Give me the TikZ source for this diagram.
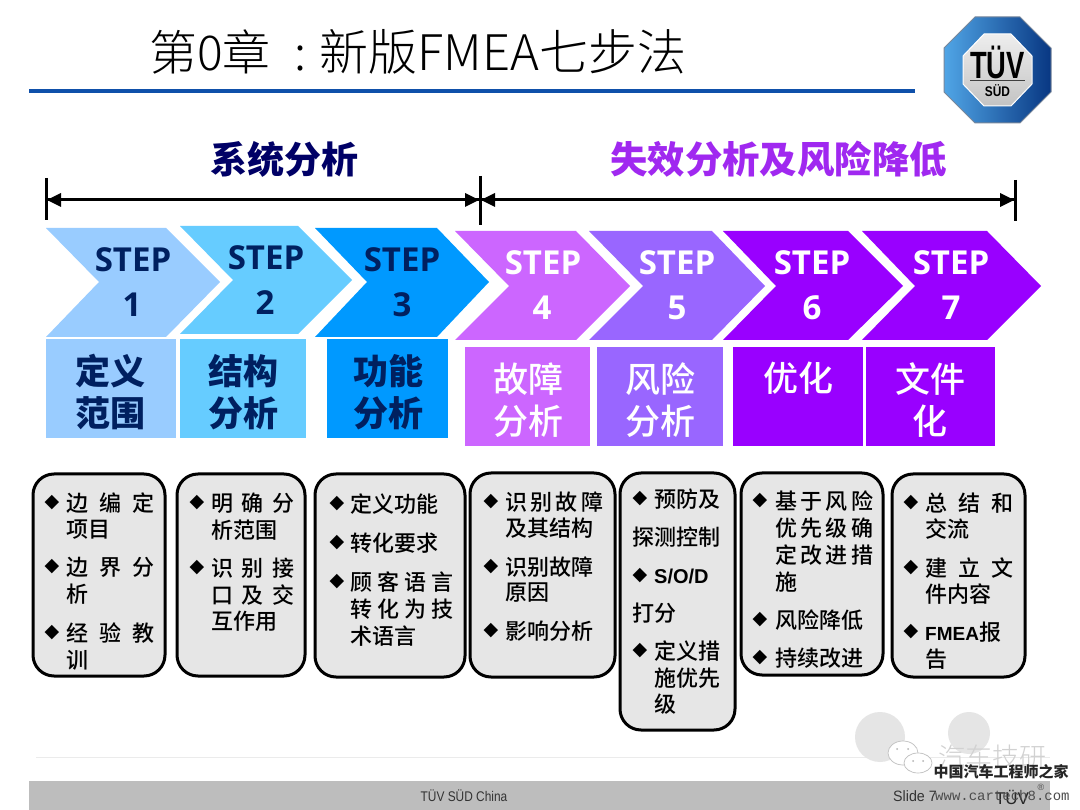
\documentclass[tikz,border=0pt]{standalone}
\usepackage{fontspec}
\setmainfont{Noto Sans CJK SC}
\newfontfamily\cjklight{Noto Sans CJK SC Light}
\newfontfamily\cjkmed{Noto Sans CJK SC Medium}
\newfontfamily\latinf{Liberation Sans}
\newfontfamily\monof{Liberation Mono}
\newfontfamily\symf{DejaVu Sans}
\newfontfamily\stepf{Open Sans}
\definecolor{cA}{HTML}{99CCFF}
\definecolor{cB}{HTML}{66CCFF}
\definecolor{cC}{HTML}{0099FF}
\definecolor{cD}{HTML}{CC66FF}
\definecolor{cE}{HTML}{9966FF}
\definecolor{cF}{HTML}{9900FF}
\definecolor{navy}{HTML}{000066}
\definecolor{deepblue}{HTML}{002060}
\definecolor{boxgray}{HTML}{E6E6E6}
\newcommand{\fs}[1]{\fontsize{#1}{#1}\selectfont}
\newcommand{\tl}[5]{\node[linetext] (#1) at (#2,#3) {\makebox[#4pt][s]{#5}};}
\newcommand{\bl}[3]{\node[bulletmark] (#1) at (#2,#3) {◆};}
\tikzset{
  linetext/.style={anchor=west,inner sep=0pt,font=\cjkmed\fs{22}},
  bulletmark/.style={inner sep=0pt,font=\symf\fs{19}},
  stephead/.style={inner sep=0pt,font=\stepf\bfseries\fs{33}},
  labeltext/.style={inner sep=0pt,font=\bfseries\fs{35},align=center},
  labellight/.style={inner sep=0pt,font=\cjkmed\fs{35},align=center,color=white},
  listbox/.style={draw=black,line width=3pt,fill=boxgray,rounded corners=21pt},
  bar/.style={line width=3pt,black},
  span/.style={line width=3pt,black},
}
\begin{document}
\begin{tikzpicture}[x=1pt,y=-1pt]
\useasboundingbox (0,0) rectangle (1080,810);
\fill[white] (0,0) rectangle (1080,810);
% title
\node[inner sep=0pt,anchor=west,font=\cjklight\fs{48}] (title) at (149,52) {第0章\hspace{24pt}:\hspace{13pt}{\fs{49}新版FMEA七步法}};
\coordinate (ruleL) at (29,91);
\coordinate (ruleR) at (915,91);
\draw[line width=4pt,color={rgb,255:red,15;green,80;blue,170}] (ruleL) -- (ruleR);
% logo
\path[draw={rgb,255:red,120;green,135;blue,155},line width=1pt,left color={rgb,255:red,80;green,165;blue,230},middle color={rgb,255:red,15;green,75;blue,155},right color={rgb,255:red,8;green,55;blue,130}]
 (975,17)--(1020,17)--(1051,48)--(1051,92)--(1020,123)--(975,123)--(944,92)--(944,48)--cycle;
\path[draw=white,line width=1pt,top color={rgb,255:red,238;green,238;blue,238},bottom color={rgb,255:red,195;green,195;blue,195}]
 (984,34)--(1011,34)--(1032,56)--(1032,84)--(1011,106)--(984,106)--(963,84)--(963,56)--cycle;
\node[inner sep=0pt,font=\latinf\bfseries\fs{38}] (tuv) at (997.5,62) {\scalebox{0.72}[1]{TÜV}};
\node[inner sep=0pt,font=\latinf\bfseries\fs{14}] (sud) at (997.5,91) {\scalebox{0.85}[1]{SÜD}};
\coordinate (lgL) at (970,80);
\coordinate (lgR) at (1025,80);
\draw[line width=0.8pt,black!75] (lgL) -- (lgR);
% headers
\node[inner sep=0pt,font=\bfseries\fs{37},color=navy] (h1) at (284,159) {系统分析};
\node[inner sep=0pt,font=\bfseries\fs{37.4},color={rgb,255:red,160;green,40;blue,240}] (h2) at (778.5,159) {失效分析及风险降低};
% spans
\coordinate (a1) at (46,178); \coordinate (a2) at (46,220);
\coordinate (b1) at (480,176); \coordinate (b2) at (480,225);
\coordinate (c1) at (1015,180); \coordinate (c2) at (1015,221);
\coordinate (l0) at (46,200); \coordinate (l1) at (480,200); \coordinate (l2) at (1015,200);
\draw[bar] (a1) -- (a2);
\draw[bar] (b1) -- (b2);
\draw[bar] (c1) -- (c2);
\draw[span] (l0) -- (l1);
\draw[span] (l1) -- (l2);
\fill (l0) ++(1,0) -- ++(14,-7) -- ++(0,14) -- cycle;
\fill (l1) ++(-1,0) -- ++(-14,-7) -- ++(0,14) -- cycle;
\fill (l1) ++(1,0) -- ++(14,-7) -- ++(0,14) -- cycle;
\fill (l2) ++(-1,0) -- ++(-14,-7) -- ++(0,14) -- cycle;
% chevrons
\fill[cA] (46,228)--(166,228)--(220,282)--(166,337)--(46,337)--(99,282)--cycle;
\fill[cB] (180,226)--(298,226)--(352,280)--(298,334)--(180,334)--(233,280)--cycle;
\fill[cC] (315,228)--(437,228)--(489,282)--(437,337)--(315,337)--(367,282)--cycle;
\fill[cD] (455,231)--(576,231)--(630,286)--(576,340)--(455,340)--(509,286)--cycle;
\fill[cE] (589,231)--(712,231)--(765,286)--(712,340)--(589,340)--(643,286)--cycle;
\fill[cF] (723,231)--(848,231)--(903,286)--(848,340)--(723,340)--(776,286)--cycle;
\fill[cF] (862,231)--(987,231)--(1041,286)--(987,340)--(862,340)--(915,286)--cycle;
\node[stephead,color=deepblue] (s1a) at (133,260) {STEP};
\node[stephead,color=deepblue] (s1b) at (132,305) {1};
\node[stephead,color=deepblue] (s2a) at (266,258) {STEP};
\node[stephead,color=deepblue] (s2b) at (265,303) {2};
\node[stephead,color=deepblue] (s3a) at (402,260) {STEP};
\node[stephead,color=deepblue] (s3b) at (402,305) {3};
\node[stephead,color=white] (s4a) at (543,263) {STEP};
\node[stephead,color=white] (s4b) at (542,308) {4};
\node[stephead,color=white] (s5a) at (677,263) {STEP};
\node[stephead,color=white] (s5b) at (677,308) {5};
\node[stephead,color=white] (s6a) at (812,263) {STEP};
\node[stephead,color=white] (s6b) at (812,308) {6};
\node[stephead,color=white] (s7a) at (951,263) {STEP};
\node[stephead,color=white] (s7b) at (951,308) {7};
% label boxes
\fill[cA] (46,339) rectangle (176,438);
\fill[cB] (180,339) rectangle (306,438);
\fill[cC] (327,339) rectangle (448,438);
\fill[cD] (465,347) rectangle (590,446);
\fill[cE] (597,347) rectangle (723,446);
\fill[cF] (733,347) rectangle (863,446);
\fill[cF] (866,347) rectangle (995,446);
\node[labeltext,color=deepblue] (n1a) at (110,371) {定义};
\node[labeltext,color=deepblue] (n1b) at (110,413) {范围};
\node[labeltext,color=deepblue] (n2a) at (243,371) {结构};
\node[labeltext,color=deepblue] (n2b) at (243,413) {分析};
\node[labeltext,color=deepblue] (n3a) at (388,371) {功能};
\node[labeltext,color=deepblue] (n3b) at (388,413) {分析};
\node[labellight] (n4a) at (528,379) {故障};
\node[labellight] (n4b) at (528,421) {分析};
\node[labellight] (n5a) at (660,379) {风险};
\node[labellight] (n5b) at (660,421) {分析};
\node[labellight] (n6a) at (798,378) {优化};
\node[labellight] (n7a) at (930,379) {文件};
\node[labellight] (n7b) at (930,421) {化};
% list boxes
\draw[listbox] (33,474) rectangle (165,676);
\draw[listbox] (177,474) rectangle (305,676);
\draw[listbox] (315,474) rectangle (465,677);
\draw[listbox] (470,473) rectangle (615,677);
\draw[listbox] (620,473) rectangle (735,730);
\draw[listbox] (741,473) rectangle (883,675);
\draw[listbox] (892,474) rectangle (1025,677);
% list 1
\bl{p11}{52}{503}\tl{t11}{66}{503}{88}{边 编 定}
\tl{t12}{66}{530}{44}{项目}
\bl{p12}{52}{567}\tl{t13}{66}{567}{88}{边 界 分}
\tl{t14}{66}{594}{22}{析}
\bl{p13}{52}{633}\tl{t15}{66}{633}{88}{经 验 教}
\tl{t16}{66}{660}{22}{训}
% list 2
\bl{p21}{197}{503}\tl{t21}{211}{503}{83}{明 确 分}
\tl{t22}{211}{530}{66}{析范围}
\bl{p22}{197}{568}\tl{t23}{211}{568}{83}{识 别 接}
\tl{t24}{211}{595}{83}{口 及 交}
\tl{t25}{211}{621}{66}{互作用}
% list 3
\bl{p31}{337}{504}\tl{t31}{350}{504}{88}{定义功能}
\bl{p32}{337}{543}\tl{t32}{350}{543}{88}{转化要求}
\bl{p33}{337}{582}\tl{t33}{350}{582}{103}{顾 客 语 言}
\tl{t34}{350}{609}{103}{转 化 为 技}
\tl{t35}{350}{636}{66}{术语言}
% list 4
\bl{p41}{491}{502}\tl{t41}{505}{502}{98}{识 别 故 障}
\tl{t42}{505}{528}{88}{及其结构}
\bl{p42}{491}{567}\tl{t43}{505}{567}{88}{识别故障}
\tl{t44}{505}{593}{44}{原因}
\bl{p43}{491}{631}\tl{t45}{505}{631}{88}{影响分析}
% list 5
\bl{p51}{640}{499}\tl{t51}{654}{499}{66}{预防及}
\tl{t52}{632}{537}{88}{探测控制}
\bl{p52}{640}{576}\node[linetext,font=\latinf\bfseries\fs{20}] (t53) at (654,576) {S/O/D};
\tl{t54}{632}{613}{44}{打分}
\bl{p53}{640}{651}\tl{t55}{654}{651}{66}{定义措}
\tl{t56}{654}{678}{66}{施优先}
\tl{t57}{654}{704}{22}{级}
% list 6
\bl{p61}{760}{501}\tl{t61}{775}{501}{96}{基 于 风 险}
\tl{t62}{775}{528}{96}{优 先 级 确}
\tl{t63}{775}{555}{96}{定 改 进 措}
\tl{t64}{775}{582}{22}{施}
\bl{p62}{760}{620}\tl{t65}{775}{620}{88}{风险降低}
\bl{p63}{760}{658}\tl{t66}{775}{658}{88}{持续改进}
% list 7
\bl{p71}{911}{503}\tl{t71}{925}{503}{88}{总 结 和}
\tl{t72}{925}{529}{44}{交流}
\bl{p72}{911}{568}\tl{t73}{925}{568}{88}{建 立 文}
\tl{t74}{925}{594}{66}{件内容}
\bl{p73}{911}{632}\node[linetext] (t75) at (925,632) {{\latinf\bfseries\fs{19}FMEA}报};
\tl{t76}{925}{659}{22}{告}
% footer
\coordinate (fl) at (36,757);
\coordinate (fr) at (1050,757);
\draw[line width=0.8pt,black!8] (fl) -- (fr);
\fill[black!26] (29,781) rectangle (1050,810);
\node[inner sep=0pt,font=\latinf\fs{14},color=black!80] (ft) at (464,796) {\scalebox{0.85}[1]{TÜV SÜD China}};
\node[inner sep=0pt,anchor=west,font=\latinf\fs{15},color=black!80] (sl) at (893,796) {\scalebox{0.95}[1]{Slide 7}};
\node[inner sep=0pt,font=\latinf\fs{17},color=black!85] (ft2) at (1012,797) {TÜV};
% watermark
\fill[black!10] (880,737) circle (25);
\fill[black!10] (969,733) circle (21);
\draw[black!25,fill=white,line width=0.7pt] (903,753) ellipse (15 and 12);
\draw[black!25,fill=white,line width=0.7pt] (918,763) ellipse (14 and 10);
\fill[black!30] (897,749) circle (1) (908,749) circle (1) (913,761) circle (1) (923,761) circle (1);
\node[inner sep=0pt,font=\cjklight\fs{27},color=black!18] (wm1) at (992,757) {汽车技研};
\node[inner sep=0pt,font=\bfseries\fs{15},color=black!85] (wm2) at (1001,772) {中国汽车工程师之家};
\node[inner sep=0pt,anchor=west,font=\monof\fs{14},color=black!70] (wm3) at (935,795) {www.cartech8.com};
\node[inner sep=0pt,font=\latinf\fs{9},color=black!70] (wm4) at (1041,787) {®};
\end{tikzpicture}
\end{document}
